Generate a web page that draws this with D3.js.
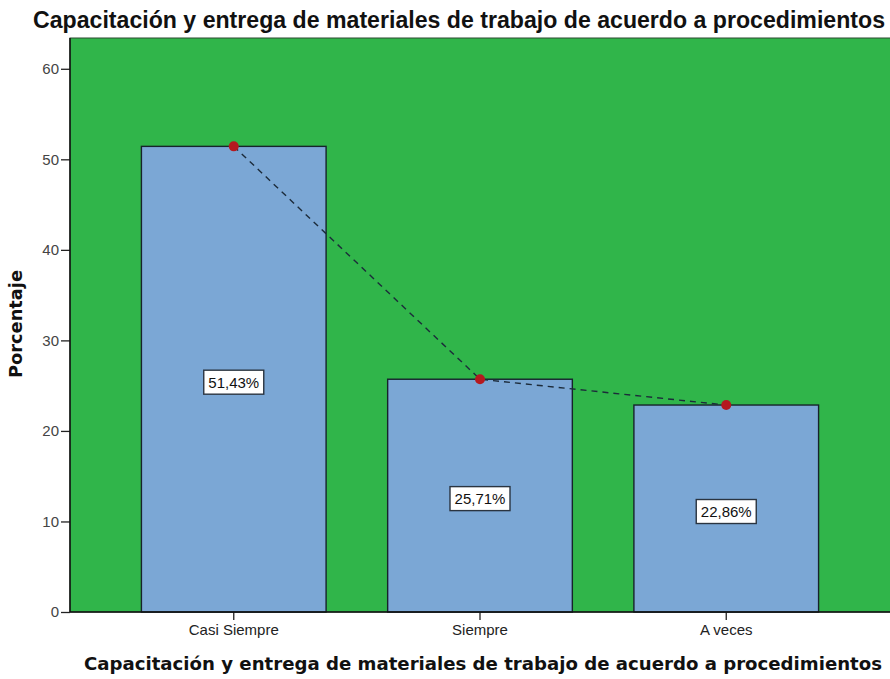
<!DOCTYPE html>
<html>
<head>
<meta charset="utf-8">
<script src="https://cdn.jsdelivr.net/npm/d3@7"></script>
<style>
  body { margin: 0; background: #fff; }
  svg { display: block; font-family: "Liberation Sans", Arial, sans-serif; }
</style>
</head>
<body>
<svg id="chart" width="890" height="679"></svg>
<script>
// Porcentajes por categoría
const categories = ["Casi Siempre", "Siempre", "A veces"];
const values = [51.43, 25.71, 22.86];
const labels = ["51,43%", "25,71%", "22,86%"];
const yTicks = [0, 10, 20, 30, 40, 50, 60];

const title = "Capacitación y entrega de materiales de trabajo de acuerdo a procedimientos";

const svg = d3.select("#chart");
const plot = { left: 70, right: 890, top: 38, bottom: 612 };

const x = d3.scaleBand()
  .domain(categories)
  .range([plot.left, plot.right])
  .paddingInner(0.25)
  .paddingOuter(0.29);

const y = d3.scaleLinear()
  .domain([0, 63.4])
  .range([plot.bottom, plot.top]);

// Fondo del área de trazado
svg.append("rect")
  .attr("x", plot.left).attr("y", plot.top)
  .attr("width", plot.right - plot.left + 2).attr("height", plot.bottom - plot.top)
  .attr("fill", "#30b54a")
  .attr("stroke", "#2c4a30").attr("stroke-width", 1);

// Barras
svg.append("g").selectAll("rect")
  .data(values)
  .join("rect")
  .attr("x", (d, i) => x(categories[i]))
  .attr("y", d => y(d))
  .attr("width", x.bandwidth())
  .attr("height", d => y(0) - y(d))
  .attr("fill", "#7ba7d5")
  .attr("stroke", "#16232b")
  .attr("stroke-width", 1.4);

// Línea discontinua que une los valores
const line = d3.line()
  .x((d, i) => x(categories[i]) + x.bandwidth() / 2)
  .y(d => y(d));

svg.append("path")
  .datum(values)
  .attr("d", line)
  .attr("fill", "none")
  .attr("stroke", "#1c2b3a")
  .attr("stroke-width", 1.4)
  .attr("stroke-dasharray", "6,5");

svg.append("g").selectAll("circle")
  .data(values)
  .join("circle")
  .attr("cx", (d, i) => x(categories[i]) + x.bandwidth() / 2)
  .attr("cy", d => y(d))
  .attr("r", 5)
  .attr("fill", "#b5191f");

// Etiquetas de valor
const lab = svg.append("g").selectAll("g")
  .data(values)
  .join("g")
  .attr("transform", (d, i) =>
    `translate(${x(categories[i]) + x.bandwidth() / 2},${(y(d) + y(0)) / 2 + 3})`);

lab.append("rect")
  .attr("x", -30).attr("y", -12)
  .attr("width", 60).attr("height", 24)
  .attr("fill", "#fff")
  .attr("stroke", "#2a3440").attr("stroke-width", 1.4);

lab.append("text")
  .attr("text-anchor", "middle")
  .attr("dy", "0.36em")
  .attr("font-size", 15)
  .attr("fill", "#111")
  .text((d, i) => labels[i]);

// Eje Y
const yAxis = svg.append("g")
  .attr("transform", `translate(${plot.left},0)`)
  .call(d3.axisLeft(y).tickValues(yTicks).tickSize(9).tickPadding(2).tickSizeOuter(0));
yAxis.select(".domain").remove();
yAxis.selectAll("line").attr("stroke", "#222").attr("stroke-width", 1.3);
yAxis.selectAll("text").attr("font-size", 15).attr("fill", "#444")
  .attr("font-family", "Liberation Sans, Arial, sans-serif");

svg.append("line")
  .attr("x1", plot.left).attr("x2", plot.left)
  .attr("y1", plot.top).attr("y2", plot.bottom)
  .attr("stroke", "#111").attr("stroke-width", 1.5);

// Eje X
const xAxis = svg.append("g")
  .attr("transform", `translate(0,${plot.bottom})`)
  .call(d3.axisBottom(x).tickSize(8).tickPadding(4).tickSizeOuter(0));
xAxis.select(".domain").remove();
xAxis.selectAll("line").attr("stroke", "#222").attr("stroke-width", 1.3);
xAxis.selectAll("text").attr("font-size", 15).attr("fill", "#222")
  .attr("font-family", "Liberation Sans, Arial, sans-serif");

svg.append("line")
  .attr("x1", plot.left).attr("x2", plot.right)
  .attr("y1", plot.bottom).attr("y2", plot.bottom)
  .attr("stroke", "#111").attr("stroke-width", 1.5);

// Títulos
svg.append("text")
  .attr("x", 33).attr("y", 28)
  .attr("font-size", 23).attr("font-weight", "bold")
  .attr("textLength", 852).attr("lengthAdjust", "spacingAndGlyphs")
  .attr("fill", "#111")
  .text(title);

svg.append("text")
  .attr("x", 84).attr("y", 670)
  .attr("font-size", 18).attr("font-weight", "bold")
  .attr("font-family", "DejaVu Sans, Verdana, sans-serif")
  .attr("textLength", 798).attr("lengthAdjust", "spacingAndGlyphs")
  .attr("fill", "#111")
  .text(title);

svg.append("text")
  .attr("transform", `translate(22,324) rotate(-90)`)
  .attr("text-anchor", "middle")
  .attr("font-size", 17).attr("font-weight", "bold")
  .attr("font-family", "DejaVu Sans, Verdana, sans-serif")
  .attr("textLength", 108).attr("lengthAdjust", "spacingAndGlyphs")
  .attr("fill", "#111")
  .text("Porcentaje");
</script>
</body>
</html>
